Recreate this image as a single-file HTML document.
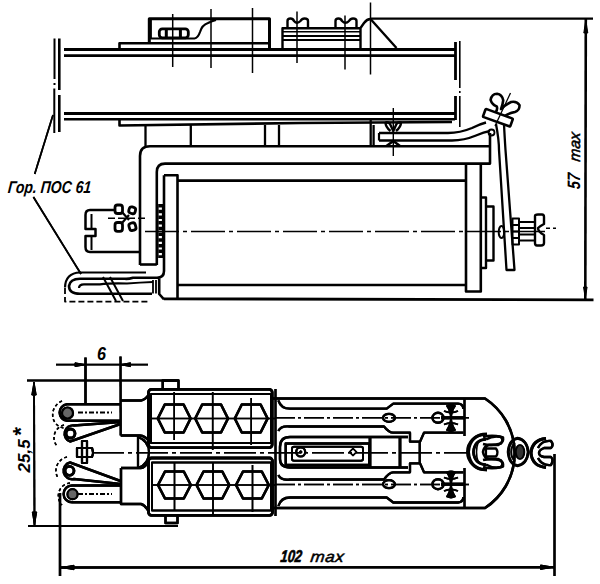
<!DOCTYPE html>
<html><head><meta charset="utf-8">
<style>
html,body{margin:0;padding:0;background:#fff;width:600px;height:584px;overflow:hidden}
svg{display:block}
text{font-family:"Liberation Sans",sans-serif;font-style:italic;fill:#000}
</style></head>
<body>
<svg width="600" height="584" viewBox="0 0 600 584">
<g fill="none" stroke="#000" stroke-width="2.4" stroke-linecap="butt" stroke-linejoin="round">

<!-- ===== SIDE VIEW ===== -->
<!-- left end plate -->
<path d="M54.5 38.5 V79 M54.5 83 V85 M54.3 88.5 V133" stroke-width="2"/>
<path d="M59.3 38.5 V90 M59.3 95 V132" stroke-width="2.6"/>
<!-- top plate -->
<line x1="64" y1="49.5" x2="455" y2="49.5" stroke-width="3"/>
<line x1="64" y1="55.7" x2="455" y2="55.7" stroke-width="2.8"/>
<path d="M119.5 48 V43.3 H269" stroke-width="2.6"/>
<!-- bottom plate -->
<line x1="64" y1="113.6" x2="455" y2="113.6" stroke-width="3"/>
<line x1="64" y1="119.2" x2="455" y2="119.2" stroke-width="2.6"/>
<path d="M119.5 120 V125.5 L300 123 L452 122" stroke-width="2.6"/>
<!-- right end plate -->
<path d="M455.5 42 V80 M455.5 96 V120" stroke-width="2.8"/>
<path d="M459.8 41 V88 M459.8 91 V93 M459.8 96 V127" stroke-width="1.6"/>

<!-- box 1 on top -->
<path d="M149.3 43.5 V18.8 H269.5 V48" stroke-width="3"/>
<path d="M150.8 20 V38.5 H194.5 Q198 38 200 32 Q202 25 208 23 Q212 21 216 20" stroke-width="2.2"/>
<rect x="159.3" y="28.8" width="29" height="9" rx="3" stroke-width="2.8"/>
<path d="M166.3 29 V38 M180.4 29 V38" stroke-width="3"/>
<!-- component 2 -->
<path d="M282.5 48 V28.3 H360.5"/>
<line x1="282.5" y1="31.8" x2="360" y2="31.8" stroke-width="1.6"/>
<line x1="282.5" y1="36" x2="360" y2="36" stroke-width="2"/>
<line x1="282.5" y1="40" x2="360" y2="40" stroke-width="2"/>
<!-- wing nuts top -->
<path d="M287.5 28 V21 Q287.5 18.5 290.5 18.5 Q293 18.5 294 21 Q297 24.5 300.5 21 Q302 18.5 304.5 18.5 Q308 18.5 308 21 V28" stroke-width="2.4"/>
<path d="M335.5 28 V21 Q335.5 18.5 338.5 18.5 Q341 18.5 342 21 Q345.5 24.5 349 21 Q350.5 18.5 353 18.5 Q356.5 18.5 356.5 21 V28" stroke-width="2.4"/>
<!-- peak -->
<path d="M360.5 48 V28 L364 23 Q367 19 370.5 19 L396.5 48" stroke-width="2.4"/>
<!-- centre lines vertical -->
<g stroke-width="1.5">
<line x1="172.7" y1="14" x2="172.7" y2="67"/>
<line x1="211" y1="9" x2="211" y2="68"/>
<line x1="252.5" y1="8" x2="252.5" y2="73"/>
<line x1="297" y1="11.5" x2="297" y2="63"/>
<line x1="345" y1="15.5" x2="345" y2="69.5"/>
<line x1="370.5" y1="2.5" x2="370.5" y2="74.5"/>
</g>
<!-- dimension 57 max -->
<line x1="370" y1="18.6" x2="593" y2="18.6" stroke-width="2.2"/>
<line x1="585.8" y1="19" x2="585.3" y2="299" stroke-width="2.6"/>
<path d="M585.8 20 L583.8 33 L587.8 33 Z M585.3 298 L583.5 287 L587.1 287 Z" fill="#000" stroke-width="1"/>

<!-- boxes under plate -->
<path d="M145.5 125 V146 M190.8 125 V146 M265 125 V146 M279 125 V146 M370.7 119 V146 M373.6 125 V146" stroke-width="2.3"/>

<!-- bracket (bent strip) -->
<path d="M140 265 V156 Q140 146.3 150 146.3 H490" stroke-width="2.6"/>
<path d="M156.8 265 V172 Q156.8 163.6 165 163.6 H490 V133" stroke-width="2.6"/>
<line x1="140" y1="264.5" x2="156.8" y2="264.5" stroke-width="2.6"/>
<!-- top bar + wing nut 393 -->
<path d="M379 133 H448 Q460 133 472 128 Q480 124 486 122.5" stroke-width="2.4"/>
<path d="M379 140.5 V133" stroke-width="2.2"/>
<path d="M379 140.5 H452 Q464 140.5 476 135.5 Q484 132 490 131" stroke-width="2.4"/>
<line x1="393.3" y1="108" x2="393.3" y2="156" stroke-width="1.4"/>
<path d="M385.5 122.5 Q388 121.5 390 124 L393.3 131 L396.5 124 Q398.5 121.5 401 122.5 Q401 127 396 131 M390.5 131 Q385.5 127 385.5 122.5" stroke-width="2.4"/>
<path d="M386.5 146 L393.3 141 L400 146" stroke-width="2.6"/>

<!-- coil -->
<path d="M164 175.3 H177.5 V298.5 M164 175.3 V271 Q164 277.7 157 277.7 H133 Q129 279 125 278.8 H80 Q70 279 69 286 Q69 293.8 80 293.8 H152 M159.2 278 V294 L164 299.3" stroke-width="2.6"/>
<line x1="177.8" y1="180.6" x2="465" y2="180.6" stroke-width="2.6"/>
<line x1="177.8" y1="285" x2="465" y2="285" stroke-width="2.6"/>
<line x1="164" y1="298.8" x2="593.5" y2="299.8" stroke-width="2.8"/>
<path d="M466 163 V291.5 H480.8 V163" stroke-width="2.6"/>
<!-- washers right -->
<path d="M481 197.5 H486 V268 H481" stroke-width="2.4"/>
<path d="M486 206.5 H493.5 V260.5 H486" stroke-width="2.4"/>
<!-- beaded washer left -->
<path d="M158 204 V258 M162.5 204 V258" stroke-width="1.2"/>
<line x1="160.2" y1="204" x2="160.2" y2="258" stroke-width="3.6" stroke-dasharray="3.5 2.2"/>
<!-- centre line -->
<path d="M145 231.5 H545" stroke-width="1.5" stroke-dasharray="34 4 4 4"/>
<path d="M546 228.3 H556" stroke-width="1.4" stroke-dasharray="4 3"/>

<!-- rod strip right -->
<path d="M496 124 Q499 140 499 150 L506.5 270 H514.5 L505.5 150 Q504.5 135 504 124" stroke-width="2.3"/>
<!-- upper right wing nut -->
<g transform="translate(498 117.5) rotate(20)">
<rect x="-14.5" y="-4" width="29" height="8.5" rx="1" stroke-width="2.6"/>
<path d="M-4 -4 Q-3 -8 -5 -10 Q-10 -10 -13 -14 Q-14 -20 -9 -22 Q-4 -23 -1 -18 Q0 -14 0 -9 Q3 -15 7 -19 Q12 -22 16 -19 Q18 -14 14 -11 Q9 -8 6 -4" stroke-width="2.6"/>
</g>
<line x1="510.5" y1="93" x2="495" y2="126" stroke-width="1.3"/>
<circle cx="491.5" cy="132.5" r="3" stroke-width="1.8"/>

<!-- right screw -->
<ellipse cx="501.5" cy="232" rx="2.8" ry="6" stroke-width="2"/>
<path d="M512.5 218.5 H519 V244.5 H512.5 Z M512.5 225 H519 M512.5 231.5 H519 M512.5 238 H519" stroke-width="2"/>
<path d="M519 222 H535 M519 228 H535 M519 234.5 H535 M519 240.5 H535" stroke-width="1.8"/>
<path d="M535 216 Q535 214.5 538 214.5 H542 Q544 214.5 544 217 V224 Q540 226 538 228 Q538 232 544 235 V243 Q544 245.5 541 245.5 H537 Q535 245.5 535 243 Z" stroke-width="2.4"/>

<!-- left screw -->
<path d="M116 210 H90 Q85.5 210 85.5 215 V229 H95.5 V236 H85.5 V247 Q85.5 252 90 252 H139" stroke-width="2.5"/>
<line x1="91.5" y1="214" x2="91.5" y2="228" stroke-width="2"/>
<line x1="91.5" y1="237" x2="91.5" y2="250" stroke-width="2"/>
<g stroke-width="2.8">
<rect x="115" y="205" width="7.5" height="8.5" rx="2.5"/>
<rect x="115" y="222.5" width="7.5" height="8.8" rx="2.5"/>
<rect x="129" y="207" width="6.5" height="6.5" rx="2.5" transform="rotate(15 132 210)"/>
<rect x="129" y="223" width="6.5" height="7.5" rx="2.5" transform="rotate(-15 132 226)"/>
<path d="M122 212 L129 220 M122 223 L129 215" stroke-width="2.2"/>
</g>
<line x1="108" y1="218.3" x2="148" y2="218.3" stroke-width="1.4" stroke-dasharray="7 3"/>

<!-- solder lug left -->
<path d="M146 272.5 H80 Q65.5 273 65 287.5" stroke-width="2.2"/>
<path d="M65 288 V301.6 H148" stroke-width="1.8" stroke-dasharray="6 3"/>
<path d="M79 288 Q79 284.3 84 284.3 H100 Q110 283 127 283.5 Q140 282.5 153 282" stroke-width="2.2"/>
<path d="M153 280 V293.5 M156 280 V293.5" stroke-width="1.8"/>
<path d="M103 277 L116 301 M110 277 L123 301" stroke-width="2"/>

<!-- leader lines -->
<line x1="53" y1="115" x2="34.7" y2="174" stroke-width="1.7"/>
<line x1="33.4" y1="197" x2="81" y2="274" stroke-width="1.7"/>


<!-- ===== PLAN VIEW ===== -->
<!-- dimension 6 -->
<line x1="56" y1="364.7" x2="148" y2="364.7" stroke-width="1.8"/>
<path d="M85.3 364.7 L75 362.8 L75 366.6 Z M120.3 364.7 L130.5 362.8 L130.5 366.6 Z" fill="#000" stroke-width="1"/>
<line x1="85.5" y1="357.5" x2="85.5" y2="403.5" stroke-width="2.4"/>
<line x1="120.5" y1="356.5" x2="120.7" y2="435.5" stroke-width="2.2"/>
<!-- dimension 25,5 -->
<line x1="27" y1="380.5" x2="178.5" y2="380.5" stroke-width="2.2"/>
<line x1="28" y1="526" x2="178" y2="526" stroke-width="2.2"/>
<line x1="34" y1="382" x2="34.5" y2="525" stroke-width="1.9"/>
<path d="M34 382 L31.8 395 L36.2 395 Z M34.5 525 L32.3 512 L36.7 512 Z" fill="#000" stroke-width="1"/>
<!-- dimension 102 -->
<line x1="60" y1="493" x2="60" y2="576" stroke-width="2.4"/>
<line x1="554.5" y1="454" x2="554.5" y2="576" stroke-width="2.2"/>
<line x1="60" y1="567.5" x2="554.5" y2="567.2" stroke-width="2.4"/>
<path d="M61 567.5 L74 565.3 L74 569.7 Z M553.5 567.2 L540.5 565 L540.5 569.4 Z" fill="#000" stroke-width="1"/>

<!-- lugs -->
<g stroke-width="2.4">
<path d="M120.5 404.3 H67 A8.3 8.3 0 0 0 67 420.8 H120.5"/>
<circle cx="67.5" cy="413" r="5.5" fill="#666" stroke-width="2.2"/>
<path d="M120.5 422 L74 425.5 A8.3 8.3 0 0 0 70 441.5 L120.5 424"/>
<circle cx="70.5" cy="433.5" r="4.5" stroke-width="2.8"/>
<path d="M120.5 481 L70 462.5 A8.3 8.3 0 0 0 74 479 L120.5 484"/>
<circle cx="69.5" cy="470.8" r="4.5" stroke-width="2.8"/>
<path d="M120.5 485.5 H72 A8.3 8.3 0 0 0 72 502.3 H120.5"/>
<circle cx="72.5" cy="494.2" r="5" fill="#666" stroke-width="2.2"/>
</g>
<g stroke-width="1.5" stroke-dasharray="3 2.5">
<path d="M62 401 A15 15 0 0 0 53 418 A13 13 0 0 0 64 428"/>
<path d="M64 425 A13 13 0 0 0 57 446"/>
<path d="M67 457 A14 14 0 0 0 58 478"/>
<path d="M70 483 A13 13 0 0 0 62 505"/>
</g>
<path d="M78 412.5 H112 M78 494 H112" stroke-width="2" stroke-dasharray="5 2 2 2"/>
<path d="M82 441 H87 V463 H82 Z M77 448 H92 Q94 452.5 92 457 H77 Z" stroke-width="2.2"/>

<!-- neck left -->
<path d="M120.7 400.5 H141 Q145 400 149 394.5" stroke-width="2.4"/>
<path d="M120.7 435.5 H140 Q145 436 149 441" stroke-width="2.4"/>
<path d="M138 436 V468 M138 437 Q149 441 149 452.5 Q149 464 138 468" stroke-width="2.2"/>
<path d="M121 468 H141 Q145 468 149 461 M121 468 V504 H141 Q145 505 149 512" stroke-width="2.4"/>

<!-- upper block -->
<rect x="148.5" y="389.3" width="123.7" height="58.3" rx="3" stroke-width="2.8"/>
<rect x="151" y="394" width="120" height="49" stroke-width="2"/>
<path d="M162.7 389 V380.5 H178.5 V389" stroke-width="2.4"/>
<!-- lower block -->
<rect x="148.5" y="458" width="124" height="57.3" rx="3" stroke-width="2.8"/>
<rect x="152" y="462.5" width="119" height="48" stroke-width="2"/>
<path d="M165.5 515.5 V523 H177.5 V515.5" stroke-width="2.4"/>
<!-- hexagons -->
<g stroke-width="2.6">
<path d="M157.8 418.5 L164.8 404.5 H183.6 L190.6 418.5 L183.6 432.5 H164.8 Z"/>
<path d="M195.2 418.5 L202.2 404.5 H221 L228 418.5 L221 432.5 H202.2 Z"/>
<path d="M234.8 418.5 L241.8 404.5 H260.6 L267.6 418.5 L260.6 432.5 H241.8 Z"/>
<path d="M158 485 L165 471.5 H183.8 L190.8 485 L183.8 498.5 H165 Z"/>
<path d="M196.5 485 L203.5 471.5 H222.3 L229.3 485 L222.3 498.5 H203.5 Z"/>
<path d="M236 485 L243 471.5 H261.8 L268.8 485 L261.8 498.5 H243 Z"/>
</g>
<g stroke-width="1.6">
<line x1="174.2" y1="392" x2="174.2" y2="440"/>
<line x1="212.7" y1="392" x2="212.7" y2="450"/>
<line x1="251.2" y1="398" x2="251.2" y2="445"/>
<line x1="151" y1="418.5" x2="276" y2="418.5"/>
<line x1="174.5" y1="462" x2="174.5" y2="510"/>
<line x1="213" y1="462" x2="213" y2="515"/>
<line x1="252.5" y1="465" x2="252.5" y2="512"/>
<line x1="151" y1="485" x2="276" y2="485"/>
</g>
<path d="M92 452.8 H470" stroke-width="1.6" stroke-dasharray="32 4 4 4"/>

<!-- right body -->
<path d="M272.5 398.5 H485 A65.4 65.4 0 0 1 485 508 H272.5" stroke-width="2.6"/>
<path d="M464.5 398.5 V436 M464.5 468 V508" stroke-width="2.2"/>
<line x1="275.5" y1="389" x2="275.5" y2="516" stroke-width="2.2"/>
<!-- upper strip -->
<path d="M278.3 400.3 Q281 408.7 290 408.7 H386.7 L393.3 403.7 H458 Q463.3 404 463.3 409" stroke-width="2.3"/>
<path d="M278.3 431 Q281 425.3 290 426.5 H384 Q389 432.7 393 432.7 H410 V441.7 H420 L424 432.7 H463.3" stroke-width="2.3"/>
<path d="M275 417.8 H470" stroke-width="1.5" stroke-dasharray="20 3 3 3"/>
<!-- lower strip -->
<path d="M278.3 506 Q281 497.5 290 497.5 H386.7 L393.3 502.5 H458 Q463.3 502 463.3 497" stroke-width="2.3"/>
<path d="M278.3 475 Q281 480.8 290 479.5 H384 Q389 472.3 393 472.3 H410 V463.3 H420 L424 472.3 H463.3" stroke-width="2.3"/>
<path d="M275 484.5 H470" stroke-width="1.5" stroke-dasharray="20 3 3 3"/>
<!-- middle frame -->
<path d="M408 437 H290 Q280 437 280 447 V459 Q280 467.5 290 467.5 H408" stroke-width="2.4"/>
<rect x="285.7" y="443.5" width="83.5" height="21.5" stroke-width="2.4"/>
<rect x="292" y="446.7" width="71" height="14" rx="2" stroke-width="2"/>
<circle cx="300.7" cy="452" r="4.5" stroke-width="2.2"/>
<circle cx="300.7" cy="452" r="1.2" fill="#000" stroke-width="1"/>
<path d="M349.5 452 L353 448.5 L356.5 452 L353 455.5 Z" stroke-width="1.6"/>
<line x1="370" y1="437" x2="370" y2="467.5" stroke-width="2.8"/>
<line x1="400" y1="437" x2="400" y2="467.5" stroke-width="2.8"/>
<path d="M419.7 441.7 V463.3" stroke-width="2.2"/>
<!-- rivets -->
<ellipse cx="389" cy="417.8" rx="6" ry="4" stroke-width="2.2"/>
<ellipse cx="389" cy="484.2" rx="6" ry="4" stroke-width="2.2"/>
<ellipse cx="438" cy="417.8" rx="5.5" ry="5" stroke-width="2.4"/>
<ellipse cx="438" cy="484.2" rx="5.5" ry="5" stroke-width="2.4"/>
<path d="M441 417.8 H464" stroke-width="3.2"/>
<path d="M447 406 Q451 404 455 406 Q452 410 451 417 Q450 410 447 406 Z M447 430 Q451 432 455 430 Q452 426 451 419 Q450 426 447 430 Z" fill="#000" stroke-width="1.8"/>
<path d="M444 411 Q451 414 458 411 M444 424.5 Q451 421.5 458 424.5" stroke-width="1.8"/>
<path d="M441 484.2 H464" stroke-width="3.2"/>
<path d="M447 472.5 Q451 470.5 455 472.5 Q452 476.5 451 483.5 Q450 476.5 447 472.5 Z M447 496.5 Q451 498.5 455 496.5 Q452 492.5 451 485.5 Q450 492.5 447 496.5 Z" fill="#000" stroke-width="1.8"/>
<path d="M444 477.5 Q451 480.5 458 477.5 M444 491 Q451 488 458 491" stroke-width="1.8"/>

<!-- fasteners at nose -->
<path d="M487 434 Q470 434 468.5 452 Q470 470 487 470" stroke-width="3"/>
<path d="M486 439 Q474 440 473.5 452 Q474 464 486 465" stroke-width="2.6"/>
<path d="M478 443 Q476.5 447 476.5 452 Q476.5 457 478 461" stroke-width="1.6"/>
<path d="M483 437 Q492 434.5 501 437 Q504 440 501 443.5 Q492 446 483 444" stroke-width="2.6"/>
<path d="M483 467 Q492 469.5 501 467 Q504 464 501 460.5 Q492 458 483 460" stroke-width="2.6"/>
<path d="M485 448.5 H496 Q499 452.5 496 456.5 H485" stroke-width="2.4"/>
<path d="M486 444 V460" stroke-width="2.2"/>
<path d="M517.5 438 Q509 439.5 508 452 Q509 464.5 517.5 466 Q527 464.5 528 452 Q527 439.5 517.5 438 Z" stroke-width="2.6"/>
<path d="M515 442.5 Q511.5 446 511.5 452 Q511.5 458 515 461.5" stroke-width="1.6"/>
<ellipse cx="520" cy="452" rx="4.5" ry="7" fill="#333" stroke-width="1.6"/>
<path d="M546 438.5 Q532 440 531 453 Q532 466 546 467.5" stroke-width="3"/>
<path d="M538 448 Q542 440 551 441 Q554 445 551 448 H544 Q539 450 539 453 Q539 456 544 457 H551 Q554 460 551 465 Q542 466 538 458" stroke-width="2.4"/>

<!-- leader lines -->
<line x1="53" y1="115" x2="34.7" y2="174" stroke-width="1.7"/>
<line x1="33.4" y1="197" x2="81" y2="274" stroke-width="1.7"/>


<!-- ===== PLAN VIEW ===== -->
<!-- dimension 6 -->
<line x1="56" y1="364.7" x2="148" y2="364.7" stroke-width="1.8"/>
<path d="M85.3 364.7 L75 362.8 L75 366.6 Z M120.3 364.7 L130.5 362.8 L130.5 366.6 Z" fill="#000" stroke-width="1"/>
<line x1="85.5" y1="357.5" x2="85.5" y2="403.5" stroke-width="2.4"/>
<line x1="120.5" y1="356.5" x2="120.7" y2="435.5" stroke-width="2.2"/>
<!-- dimension 25,5 -->
<line x1="27" y1="380.5" x2="178.5" y2="380.5" stroke-width="2.2"/>
<line x1="28" y1="526" x2="178" y2="526" stroke-width="2.2"/>
<line x1="34" y1="382" x2="34.5" y2="525" stroke-width="1.9"/>
<path d="M34 382 L31.8 395 L36.2 395 Z M34.5 525 L32.3 512 L36.7 512 Z" fill="#000" stroke-width="1"/>
<!-- dimension 102 -->
<line x1="60" y1="493" x2="60" y2="576" stroke-width="2.4"/>
<line x1="554.5" y1="454" x2="554.5" y2="576" stroke-width="2.2"/>
<line x1="60" y1="567.5" x2="554.5" y2="567.2" stroke-width="2.4"/>
<path d="M61 567.5 L74 565.3 L74 569.7 Z M553.5 567.2 L540.5 565 L540.5 569.4 Z" fill="#000" stroke-width="1"/>

<!-- lugs -->
<g stroke-width="2.4">
<path d="M120.5 404.3 H67 A8.3 8.3 0 0 0 67 420.8 H120.5"/>
<circle cx="67.5" cy="413" r="5.5" fill="#666" stroke-width="2.2"/>
<path d="M120.5 422 L74 425.5 A8.3 8.3 0 0 0 70 441.5 L120.5 424"/>
<circle cx="70.5" cy="433.5" r="4.5" stroke-width="2.8"/>
<path d="M120.5 481 L70 462.5 A8.3 8.3 0 0 0 74 479 L120.5 484"/>
<circle cx="69.5" cy="470.8" r="4.5" stroke-width="2.8"/>
<path d="M120.5 485.5 H72 A8.3 8.3 0 0 0 72 502.3 H120.5"/>
<circle cx="72.5" cy="494.2" r="5" fill="#666" stroke-width="2.2"/>
</g>
<g stroke-width="1.5" stroke-dasharray="3 2.5">
<path d="M62 401 A15 15 0 0 0 53 418 A13 13 0 0 0 64 428"/>
<path d="M64 425 A13 13 0 0 0 57 446"/>
<path d="M67 457 A14 14 0 0 0 58 478"/>
<path d="M70 483 A13 13 0 0 0 62 505"/>
</g>
<path d="M82 441 H87 V463 H82 Z M77 448 H92 Q94 452.5 92 457 H77 Z" stroke-width="2.2"/>

<!-- neck left -->
<path d="M120.7 400.5 H141 Q145 400 149 394.5" stroke-width="2.4"/>
<path d="M120.7 435.5 H140 Q145 436 149 441" stroke-width="2.4"/>
<path d="M138 436 V468 M138 437 Q149 441 149 452.5 Q149 464 138 468" stroke-width="2.2"/>
<path d="M121 468 H141 Q145 468 149 461 M121 468 V504 H141 Q145 505 149 512" stroke-width="2.4"/>

<!-- upper block -->
<rect x="148.5" y="389.3" width="123.7" height="58.3" rx="3" stroke-width="2.8"/>
<rect x="151" y="394" width="120" height="49" stroke-width="2"/>
<path d="M162.7 389 V380.5 H178.5 V389" stroke-width="2.4"/>
<!-- lower block -->
<rect x="148.5" y="458" width="124" height="57.3" rx="3" stroke-width="2.8"/>
<rect x="152" y="462.5" width="119" height="48" stroke-width="2"/>
<path d="M165.5 515.5 V523 H177.5 V515.5" stroke-width="2.4"/>
<!-- hexagons -->
<g stroke-width="2.6">
<path d="M157.8 418.5 L164.8 404.5 H183.6 L190.6 418.5 L183.6 432.5 H164.8 Z"/>
<path d="M195.2 418.5 L202.2 404.5 H221 L228 418.5 L221 432.5 H202.2 Z"/>
<path d="M234.8 418.5 L241.8 404.5 H260.6 L267.6 418.5 L260.6 432.5 H241.8 Z"/>
<path d="M158 485 L165 471.5 H183.8 L190.8 485 L183.8 498.5 H165 Z"/>
<path d="M196.5 485 L203.5 471.5 H222.3 L229.3 485 L222.3 498.5 H203.5 Z"/>
<path d="M236 485 L243 471.5 H261.8 L268.8 485 L261.8 498.5 H243 Z"/>
</g>
<g stroke-width="1.6">
<line x1="174.2" y1="392" x2="174.2" y2="440"/>
<line x1="212.7" y1="392" x2="212.7" y2="450"/>
<line x1="251.2" y1="398" x2="251.2" y2="445"/>
<line x1="151" y1="418.5" x2="276" y2="418.5"/>
<line x1="174.5" y1="462" x2="174.5" y2="510"/>
<line x1="213" y1="462" x2="213" y2="515"/>
<line x1="252.5" y1="465" x2="252.5" y2="512"/>
<line x1="151" y1="485" x2="276" y2="485"/>
</g>
<path d="M92 452.8 H470" stroke-width="1.6" stroke-dasharray="32 4 4 4"/>

<!-- right body -->
<path d="M272.5 398.5 H485 A65.4 65.4 0 0 1 485 508 H272.5" stroke-width="2.6"/>
<path d="M464.5 398.5 V436 M464.5 468 V508" stroke-width="2.2"/>
<line x1="275.5" y1="389" x2="275.5" y2="516" stroke-width="2.2"/>
<!-- upper strip -->
<path d="M278.3 400.3 Q281 408.7 290 408.7 H386.7 L393.3 403.7 H458 Q463.3 404 463.3 409" stroke-width="2.3"/>
<path d="M278.3 431 Q281 425.3 290 426.5 H384 Q389 432.7 393 432.7 H410 V441.7 H420 L424 432.7 H463.3" stroke-width="2.3"/>
<path d="M275 417.8 H470" stroke-width="1.5" stroke-dasharray="20 3 3 3"/>
<!-- lower strip -->
<path d="M278.3 506 Q281 497.5 290 497.5 H386.7 L393.3 502.5 H458 Q463.3 502 463.3 497" stroke-width="2.3"/>
<path d="M278.3 475 Q281 480.8 290 479.5 H384 Q389 472.3 393 472.3 H410 V463.3 H420 L424 472.3 H463.3" stroke-width="2.3"/>
<path d="M275 484.5 H470" stroke-width="1.5" stroke-dasharray="20 3 3 3"/>
<!-- middle frame -->
<path d="M408 437 H290 Q280 437 280 447 V459 Q280 467.5 290 467.5 H408" stroke-width="2.4"/>
<rect x="285.7" y="443.5" width="83.5" height="21.5" stroke-width="2.4"/>
<rect x="292" y="446.7" width="71" height="14" rx="2" stroke-width="2"/>
<circle cx="300.7" cy="452" r="4.5" stroke-width="2.2"/>
<circle cx="300.7" cy="452" r="1.2" fill="#000" stroke-width="1"/>
<path d="M349.5 452 L353 448.5 L356.5 452 L353 455.5 Z" stroke-width="1.6"/>
<line x1="370" y1="437" x2="370" y2="467.5" stroke-width="2.8"/>
<line x1="400" y1="437" x2="400" y2="467.5" stroke-width="2.8"/>
<path d="M419.7 441.7 V463.3" stroke-width="2.2"/>
<!-- rivets -->
<ellipse cx="389" cy="417.8" rx="6" ry="4" stroke-width="2.2"/>
<ellipse cx="389" cy="484.2" rx="6" ry="4" stroke-width="2.2"/>
<ellipse cx="438" cy="417.8" rx="5.5" ry="5" stroke-width="2.4"/>
<ellipse cx="438" cy="484.2" rx="5.5" ry="5" stroke-width="2.4"/>
<path d="M441 417.8 H464" stroke-width="3.2"/>
<path d="M447 406 Q451 404 455 406 Q452 410 451 417 Q450 410 447 406 Z M447 430 Q451 432 455 430 Q452 426 451 419 Q450 426 447 430 Z" fill="#000" stroke-width="1.8"/>
<path d="M444 411 Q451 414 458 411 M444 424.5 Q451 421.5 458 424.5" stroke-width="1.8"/>
<path d="M441 484.2 H464" stroke-width="3.2"/>
<path d="M447 472.5 Q451 470.5 455 472.5 Q452 476.5 451 483.5 Q450 476.5 447 472.5 Z M447 496.5 Q451 498.5 455 496.5 Q452 492.5 451 485.5 Q450 492.5 447 496.5 Z" fill="#000" stroke-width="1.8"/>
<path d="M444 477.5 Q451 480.5 458 477.5 M444 491 Q451 488 458 491" stroke-width="1.8"/>

<!-- fasteners at nose -->
<path d="M485 434.5 A17 17 0 1 0 485 469.5" stroke-width="3"/>
<path d="M486 439.5 A12.5 12.5 0 1 0 486 464.5" stroke-width="2.6"/>
<path d="M476 446 A8 8 0 0 0 476 458" stroke-width="1.6"/>
<path d="M486 439.5 Q494 434.5 503 437.5 Q504 442 498 445 H489 Q484 446 483 452 Q484 458 489 459 H498 Q504 462 503 466.5 Q494 469.5 486 464.5" stroke-width="2.6"/>
<path d="M517.5 438.5 Q509 440 508.5 452 Q509 464 517.5 465.5 Q527 464 528.5 452 Q527 440 517.5 438.5 Z" stroke-width="2.6"/>
<path d="M515 443 Q511 446 511 452 Q511 458 515 461" stroke-width="1.6"/>
<ellipse cx="520" cy="452" rx="4" ry="7" fill="#333" stroke-width="1.5"/>
<path d="M546 438.5 Q532 440 531 453 Q532 466 546 467.5" stroke-width="3"/>
<path d="M538 448 Q542 440 551 441 Q554 445 551 448 H544 Q539 450 539 453 Q539 456 544 457 H551 Q554 460 551 465 Q542 466 538 458" stroke-width="2.4"/>

</g>

<text font-weight="bold" transform="translate(7.5 192.5) scale(0.8 0.98) skewX(-6)" font-size="17.5">Гор. ПОС 61</text>
<text font-weight="bold" transform="translate(580 189.5) rotate(-90) scale(0.8 1) skewX(-6)" font-size="18">57</text>
<text transform="translate(580 162) rotate(-90) skewX(-6)" font-size="15.5" font-weight="normal" stroke="#000" stroke-width="0.5">max</text>

<text font-weight="bold" transform="translate(97 360) scale(0.95 1.05)" font-size="17">6</text>
<text font-weight="bold" transform="translate(30 472.5) rotate(-90)" font-size="17">25,5<tspan font-size="22" dx="3" dy="-2">*</tspan></text>
<text font-weight="bold" transform="translate(280 561.5) scale(0.76 1) skewX(-8)" font-size="17" stroke="#000" stroke-width="0.6">102</text>
<text transform="translate(310 561.5) scale(1.1 1) skewX(-6)" font-size="15.5" font-weight="normal" stroke="#000" stroke-width="0.5" letter-spacing="0.5">max</text>
</svg>
</body></html>
